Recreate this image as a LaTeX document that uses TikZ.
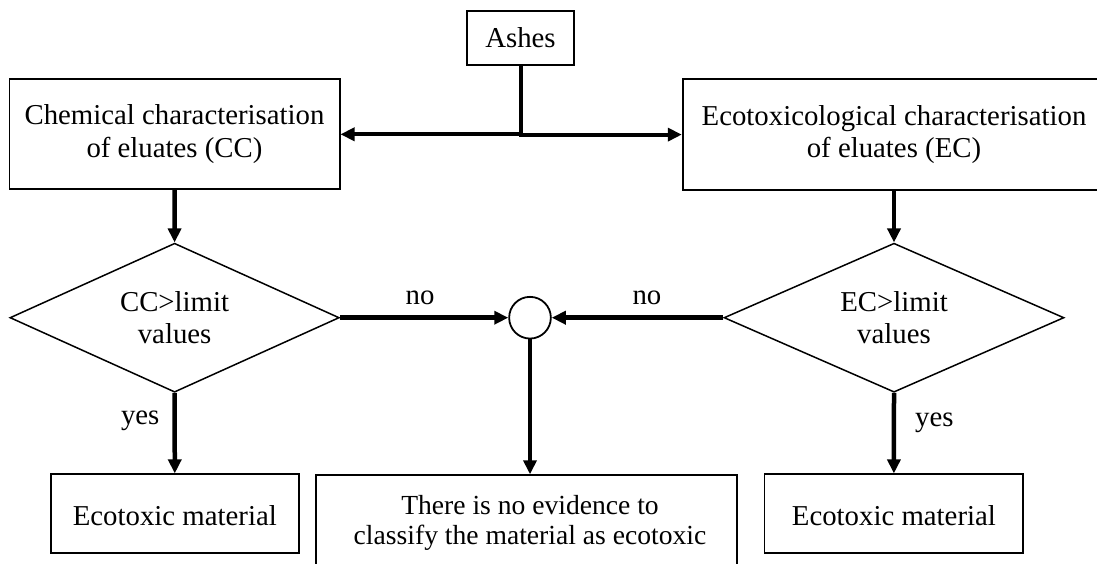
\documentclass[tikz,border=0pt]{standalone}
\usepackage{fontspec}
\setmainfont{Liberation Serif}
\usetikzlibrary{arrows.meta,shapes.geometric}
\begin{document}
\begin{tikzpicture}[x=1pt,y=-1pt,
  every node/.style={font=\fontsize{28.8}{32.5}\selectfont},
  box/.style={draw, line width=1.8pt, inner sep=0pt, align=center},
  dia/.style={draw, diamond, line width=1.5pt, inner sep=0pt, aspect=2.2, align=center, minimum height=149pt},
  arr/.style={line width=4.5pt, -{Triangle[length=14pt,width=13pt]}},
  lbl/.style={inner sep=0pt},
]
\useasboundingbox (0,0) rectangle (1097,563);
% nodes
\node[box, minimum width=107pt, minimum height=54pt] (ashes) at (520.5,38) {Ashes};
\node[box, minimum width=330.2pt, minimum height=110pt] (cc) at (174.5,134.3) {Chemical characterisation\\of eluates (CC)};
\node[box, minimum width=422.6pt, minimum height=110.5pt] (ec) at (894,134.6) {Ecotoxicological characterisation\\of eluates (EC)};
\node[dia, minimum width=329.3pt] (ccd) at (174.6,317.7) {CC>limit\\values};
\node[dia, minimum width=340pt] (ecd) at (894,317.7) {EC>limit\\values};
\node[draw, circle, line width=1.8pt, minimum size=41.7pt, inner sep=0pt] (circ) at (530,317.7) {};
\node[box, minimum width=248.3pt, minimum height=79pt, text height=24pt, text depth=0pt] (ecl) at (174.8,513.8) {Ecotoxic material};
\node[box, minimum width=258.8pt, minimum height=79pt, text height=24pt, text depth=0pt] (ecr) at (893.9,513.8) {Ecotoxic material};
\node[box, minimum width=420.7pt, minimum height=140pt, anchor=north] (mid) at (526.5,474.3) {};
\node[font=\fontsize{27.6}{30}\selectfont, align=center, inner sep=0pt] (midtxt) at (530,522.7) {There is no evidence to\\classify the material as ecotoxic};
% connectors
\draw[arr, line width=4pt] (ashes.south) |- (cc.east);
\draw[arr, line width=4pt] (ashes.south) |- (ec.west);
\draw[arr] (cc.south) -- (ccd.north);
\draw[arr] (ec.south) -- (ecd.north);
\draw[arr] (ccd.east) -- node[lbl, pos=0.476, above=10.5pt]{no} (circ.west);
\draw[arr] (ecd.west) -- node[lbl, pos=0.445, above=10.5pt]{no} (circ.east);
\draw[arr] (ccd.south) -- node[lbl, pos=0.345, left=13pt]{yes} (ecl.north);
\draw[arr] (ecd.south) -- node[lbl, pos=0.37, right=19pt]{yes} (ecr.north);
\draw[arr] (circ.south) -- (circ.south |- mid.north);
\end{tikzpicture}
\end{document}
